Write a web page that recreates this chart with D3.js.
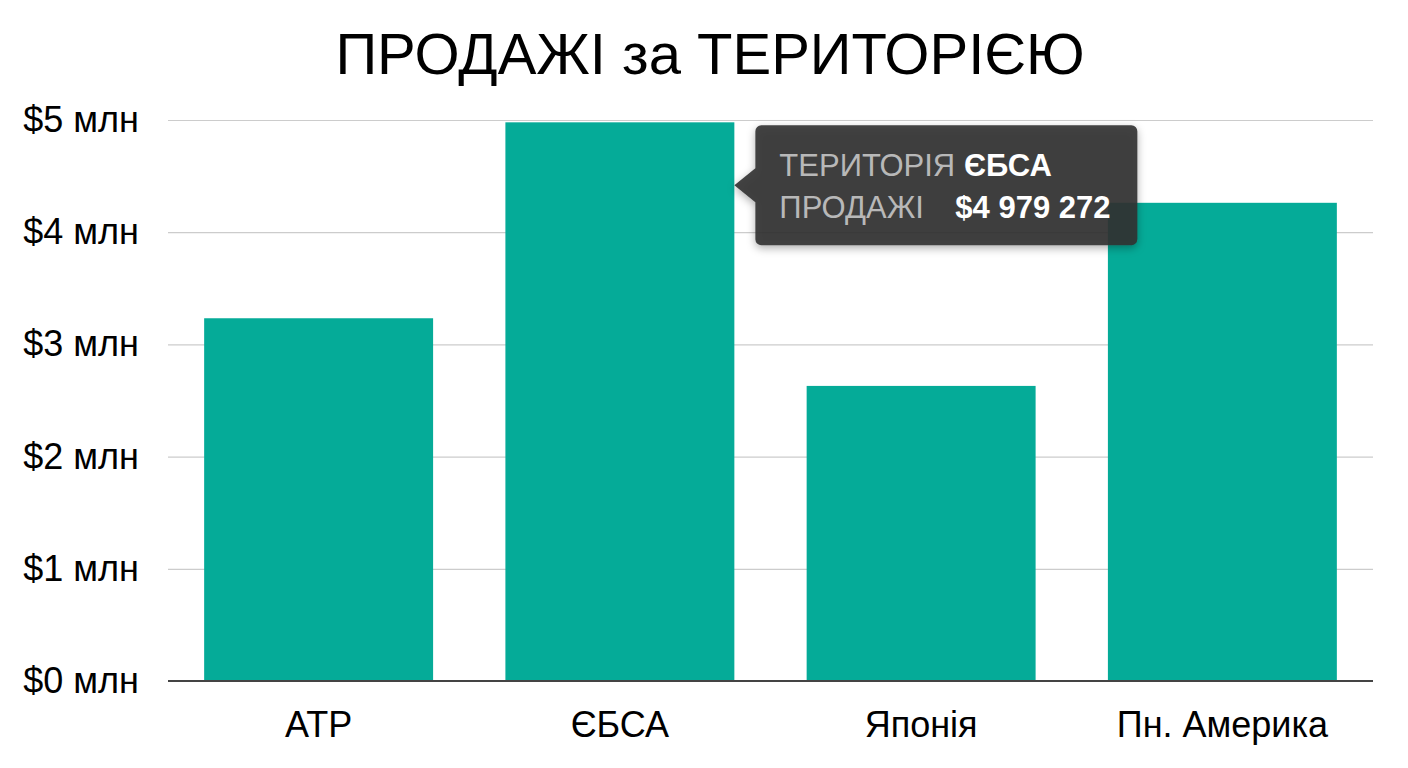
<!DOCTYPE html>
<html>
<head>
<meta charset="utf-8">
<script src="https://cdn.jsdelivr.net/npm/d3@7"></script>
<style>
  html, body { margin: 0; padding: 0; background: #ffffff; }
  svg { display: block; font-family: "Liberation Sans", Arial, Helvetica, sans-serif; }
</style>
</head>
<body>
<svg id="chart" width="1408" height="768"></svg>
<script>
const title = "ПРОДАЖІ за ТЕРИТОРІЄЮ";
const categories = ["АТР", "ЄБСА", "Японія", "Пн. Америка"];
const sales = [3233000, 4979272, 2630000, 4262000];
const yTicks = [0, 1000000, 2000000, 3000000, 4000000, 5000000];
const tooltipCategory = "ЄБСА";
const tooltipLabels = ["ТЕРИТОРІЯ", "ПРОДАЖІ"];

const svg = d3.select("#chart");
const W = 1408, H = 768;
const margin = { left: 168, right: 35, top: 120, bottom: 87 };

const x = d3.scaleBand()
  .domain(categories)
  .range([margin.left, W - margin.right])
  .paddingInner(0.24)
  .paddingOuter(0.12);

const y = d3.scaleLinear()
  .domain([0, 5000000])
  .range([H - margin.bottom, margin.top]);

const loc = d3.formatLocale({ decimal: ",", thousands: " ", grouping: [3], currency: ["$", ""] });
const fmtMoney = loc.format("$,.0f");

// Title
svg.append("text")
  .attr("x", 710).attr("y", 74)
  .attr("text-anchor", "middle")
  .attr("font-size", 58)
  .attr("fill", "#000")
  .text(title);

// Gridlines + y labels
const yAxis = d3.axisLeft(y)
  .tickValues(yTicks)
  .tickSize(-(W - margin.left - margin.right))
  .tickPadding(29)
  .tickFormat(d => "$" + (d / 1e6) + " млн");

const gy = svg.append("g")
  .attr("transform", `translate(${margin.left},0)`)
  .call(yAxis);
gy.select(".domain").remove();
gy.selectAll(".tick line").attr("stroke", "#cccccc").attr("stroke-width", 1.2);
gy.selectAll(".tick text")
  .attr("font-size", 36)
  .attr("fill", "#000")
  .attr("font-family", "'Liberation Sans', Arial, sans-serif");

// Bars
svg.append("g").selectAll("rect")
  .data(categories.map((c, i) => ({ c, v: sales[i] })))
  .join("rect")
  .attr("x", d => x(d.c))
  .attr("width", x.bandwidth())
  .attr("y", d => y(d.v))
  .attr("height", d => y(0) - y(d.v))
  .attr("fill", "#05ab98");

// Baseline
svg.append("line")
  .attr("x1", margin.left).attr("x2", W - margin.right)
  .attr("y1", y(0)).attr("y2", y(0))
  .attr("stroke", "#444").attr("stroke-width", 2);

// X axis labels
const xAxis = d3.axisBottom(x).tickSize(0).tickPadding(30);
const gx = svg.append("g")
  .attr("transform", `translate(0,${y(0)})`)
  .call(xAxis);
gx.select(".domain").remove();
gx.selectAll(".tick text")
  .attr("font-size", 36)
  .attr("fill", "#000")
  .attr("font-family", "'Liberation Sans', Arial, sans-serif");

// Tooltip
const ti = categories.indexOf(tooltipCategory);
const tv = sales[ti];
const bx = x(tooltipCategory) + x.bandwidth() + 21;
const by = y(tv) + 3;
const bw = 382, bh = 120;

const defs = svg.append("defs");
const f = defs.append("filter").attr("id", "shadow").attr("x", "-20%").attr("y", "-20%").attr("width", "140%").attr("height", "150%");
f.append("feDropShadow").attr("dx", 0).attr("dy", 3).attr("stdDeviation", 4).attr("flood-color", "#000").attr("flood-opacity", 0.35);

const tg = svg.append("g").attr("filter", "url(#shadow)");
const cy = by + bh / 2;
const r = 6;
const p = d3.path();
p.moveTo(bx + r, by);
p.lineTo(bx + bw - r, by);
p.arcTo(bx + bw, by, bx + bw, by + r, r);
p.lineTo(bx + bw, by + bh - r);
p.arcTo(bx + bw, by + bh, bx + bw - r, by + bh, r);
p.lineTo(bx + r, by + bh);
p.arcTo(bx, by + bh, bx, by + bh - r, r);
p.lineTo(bx, cy + 17);
p.lineTo(bx - 21, cy);
p.lineTo(bx, cy - 17);
p.lineTo(bx, by + r);
p.arcTo(bx, by, bx + r, by, r);
p.closePath();
tg.append("path").attr("d", p.toString()).attr("fill", "rgba(50,50,50,0.9)");

const t1 = svg.append("text").attr("x", bx + 24).attr("y", by + 51).attr("font-size", 31);
t1.append("tspan").attr("fill", "#b8b8b8").text(tooltipLabels[0] + " ");
t1.append("tspan").attr("fill", "#ffffff").attr("font-weight", "bold").text(tooltipCategory);

svg.append("text").attr("x", bx + 24).attr("y", by + 93).attr("font-size", 31)
  .attr("fill", "#b8b8b8").text(tooltipLabels[1]);
svg.append("text").attr("x", bx + 200).attr("y", by + 93).attr("font-size", 31)
  .attr("fill", "#ffffff").attr("font-weight", "bold").text(fmtMoney(tv));
</script>
</body>
</html>
